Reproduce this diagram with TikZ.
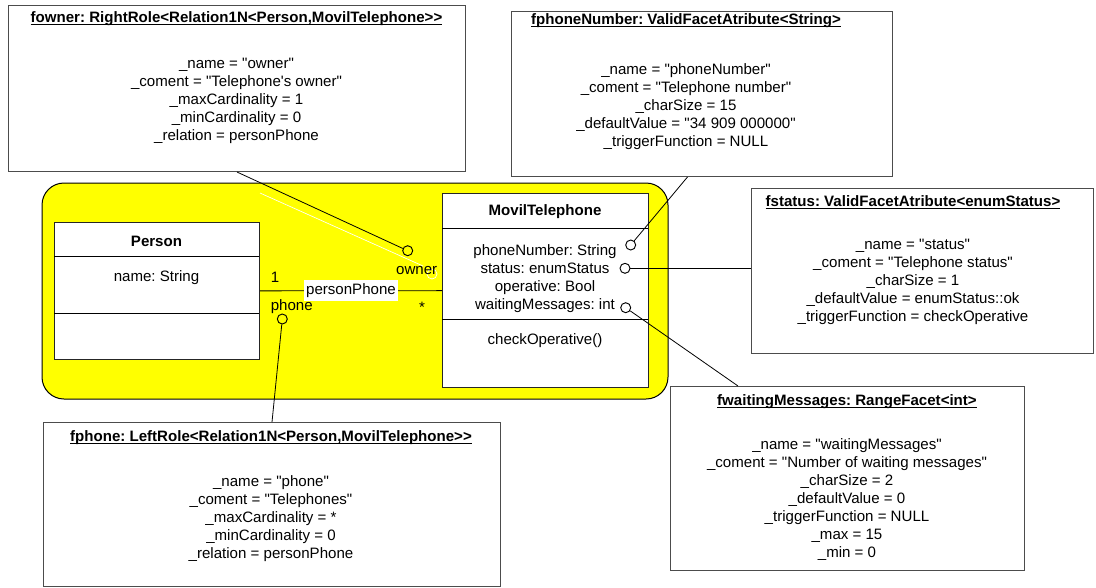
\documentclass[tikz,border=0pt]{standalone}
\usepackage{fontspec}
\setmainfont{Liberation Sans}[Ligatures=TeXOff]
\usetikzlibrary{positioning}
\frenchspacing

% bold underlined object name on top of a facet box
\newcommand{\objname}[1]{\underline{\smash{\textbf{#1}}}}
\definecolor{pkgyellow}{RGB}{255,255,0}

\tikzset{
  every node/.style={font=\fontsize{11.3}{13.5}\selectfont},
  facet/.style={draw=black!70, fill=white, line width=0.75pt, anchor=north west, inner sep=0pt},
  umlclass/.style={draw=black!85, fill=white, line width=0.75pt, anchor=north west, inner sep=0pt},
  txt/.style={align=center, inner sep=0pt},
  port/.style={circle, draw, line width=0.7pt, minimum size=7.5pt, inner sep=0pt},
  link/.style={draw, line width=0.6pt},
}

\begin{document}
\begin{tikzpicture}[x=0.75pt, y=-0.75pt]
\useasboundingbox (0,0) rectangle (1096,587);

% yellow package area
\draw[fill=pkgyellow, line width=0.75pt, rounded corners=16.5pt] (42,183) rectangle (668,399);
% ghost of an old link (white)
\draw[white, line width=0.5pt] (260,193) -- (423,266);
\draw[white, line width=0.5pt] (432,274) circle[radius=3.75pt];

% class Person
\node[umlclass, minimum width=153.75pt, minimum height=102.75pt] (person) at (54,222) {};
\draw[line width=0.75pt] (54,256) -- (259,256) (54,313) -- (259,313);
\node (personT) at (156.5,241) {\textbf{Person}};
\node (personA) at (156.5,278) {name: String};

% class MovilTelephone
\node[umlclass, minimum width=154.5pt, minimum height=145.5pt] (movil) at (442,193) {};
\draw[line width=0.75pt] (442,228) -- (648,228) (442,319) -- (648,319);
\node (movilT) at (545,212) {\textbf{MovilTelephone}};
\node[txt] (movilA) at (545,278.5) {phoneNumber: String\\ status: enumStatus\\ operative: Bool\\ waitingMessages: int};
\node (movilO) at (545,341) {checkOperative()};

% association
\draw[link] (person) -- (movil) node[midway, fill=white, inner xsep=2pt, inner ysep=2.5pt] (assoc) {personPhone};
\node[anchor=base] (mult1) at (275,282) {1};
\node[anchor=base] (multN) at (422,312) {*};
\node[anchor=base] (roleOwner) at (416.7,274) {owner};
\node[anchor=base] (rolePhone) at (291.7,310) {phone};

% facet objects
\node[facet, minimum width=342.75pt, minimum height=124.5pt] (fowner) at (8,5) {};
\node (fownerT) at (236.5,24) {\objname{fowner: RightRole<Relation1N<Person,MovilTelephone>>}};
\node[txt] (fownerB) at (236.5,100.5) {\_name = "owner"\\ \_coment = "Telephone's owner"\\ \_maxCardinality = 1\\ \_minCardinality = 0\\ \_relation = personPhone};

\node[facet, minimum width=285.75pt, minimum height=123.75pt] (fnumber) at (511,11) {};
\node (fnumberT) at (686,26) {\objname{fphoneNumber: ValidFacetAtribute<String>}};
\node[txt] (fnumberB) at (686,106.5) {\_name = "phoneNumber"\\ \_coment = "Telephone number"\\ \_charSize = 15\\ \_defaultValue = "34 909 000000"\\ \_triggerFunction = NULL};

\node[facet, minimum width=256.5pt, minimum height=123.75pt] (fstatus) at (751,188) {};
\node (fstatusT) at (913,208) {\objname{fstatus: ValidFacetAtribute<enumStatus>}};
\node[txt] (fstatusB) at (913,281.5) {\_name = "status"\\ \_coment = "Telephone status"\\ \_charSize = 1\\ \_defaultValue = enumStatus::ok\\ \_triggerFunction = checkOperative};

\node[facet, minimum width=265.5pt, minimum height=138pt] (fwaiting) at (670,386) {};
\node (fwaitingT) at (847,407) {\objname{fwaitingMessages: RangeFacet<int>}};
\node[txt] (fwaitingB) at (847,499.5) {\_name = "waitingMessages"\\ \_coment = "Number of waiting messages"\\ \_charSize = 2\\ \_defaultValue = 0\\ \_triggerFunction = NULL\\ \_max = 15\\ \_min = 0};

\node[facet, minimum width=342.75pt, minimum height=123pt] (fphone) at (43,422) {};
\node (fphoneT) at (271,443) {\objname{fphone: LeftRole<Relation1N<Person,MovilTelephone>>}};
\node[txt] (fphoneB) at (271,519) {\_name = "phone"\\ \_coment = "Telephones"\\ \_maxCardinality = *\\ \_minCardinality = 0\\ \_relation = personPhone};

% ports
\node[port] (pOwner) at (407.7,250.7) {};
\node[port] (pPhone) at (282.3,319) {};
\node[port] (pNumber) at (630.7,245) {};
\node[port] (pStatus) at (625,268.3) {};
\node[port] (pWaiting) at (625.7,307.7) {};

% links from facets to ports
\draw[link] (fowner.south) -- (pOwner);
\draw[link] ([xshift=-10.9pt]fnumber.south) -- (pNumber);
\draw[link] (pStatus) -- (pStatus -| fstatus.west);
\draw[link] (pWaiting) -- ([xshift=51pt]fwaiting.north west);
\draw[link] (pPhone) -- (fphone.north);
\end{tikzpicture}
\end{document}
